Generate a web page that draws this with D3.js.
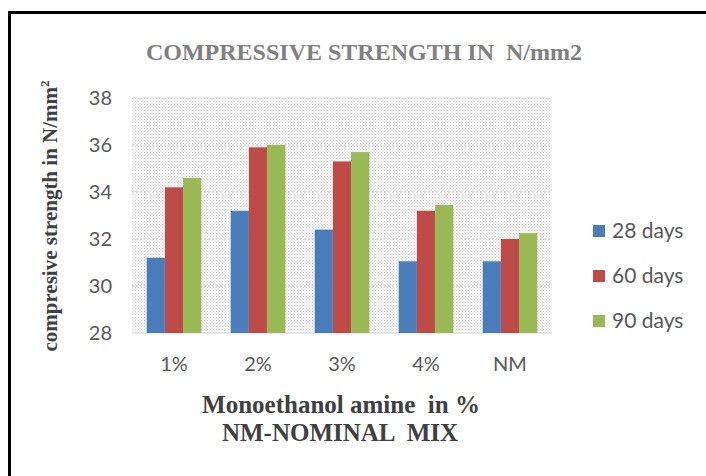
<!DOCTYPE html>
<html>
<head>
<meta charset="utf-8">
<script src="https://cdn.jsdelivr.net/npm/d3@7"></script>
<style>
  body { margin: 0; background: #fff; }
  svg { display: block; }
  text { white-space: pre; }
</style>
</head>
<body>
<svg id="chart" width="706" height="476"></svg>
<script>
const categories = ['1%', '2%', '3%', '4%', 'NM'];
const seriesNames = ['28 days', '60 days', '90 days'];
const days28 = [31.2, 33.2, 32.4, 31.05, 31.05];
const days60 = [34.2, 35.9, 35.3, 33.2, 32.0];
const days90 = [34.6, 36.0, 35.7, 33.45, 32.25];
const yTicks = [28, 30, 32, 34, 36, 38];
const colors = ['#4a7ebb', '#be4b48', '#98b954'];

const series = [days28, days60, days90];

const svg = d3.select('#chart');

// frame (left and top edges only)
svg.append('rect').attr('x', 8).attr('y', 11).attr('width', 698).attr('height', 3).attr('fill', '#000');
svg.append('rect').attr('x', 8).attr('y', 11).attr('width', 3).attr('height', 465).attr('fill', '#000');

const margin = {left: 132, right: 154, top: 98, bottom: 143};
const width = 706 - margin.left - margin.right;
const height = 476 - margin.top - margin.bottom;

const defs = svg.append('defs');
const pat = defs.append('pattern')
    .attr('id', 'dots')
    .attr('width', 3).attr('height', 3)
    .attr('patternUnits', 'userSpaceOnUse');
pat.append('rect').attr('width', 3).attr('height', 3).attr('fill', '#f7f7f7');
pat.append('rect').attr('width', 1).attr('height', 1).attr('fill', '#d9d9d9');
pat.append('rect').attr('x', 1.5).attr('y', 1.5).attr('width', 1).attr('height', 1).attr('fill', '#e2e2e2');

const g = svg.append('g').attr('transform', `translate(${margin.left},${margin.top})`);

const x0 = d3.scaleBand().domain(categories).range([0, width]).paddingInner(0.35).paddingOuter(0.175);
const x1 = d3.scaleBand().domain(d3.range(series.length)).range([0, x0.bandwidth()]);
const y = d3.scaleLinear().domain([28, 38]).range([height, 0]);

g.append('rect').attr('width', width).attr('height', height).attr('fill', 'url(#dots)');

g.append('g')
    .selectAll('line')
    .data(yTicks)
    .enter().append('line')
      .attr('x1', 0).attr('x2', width)
      .attr('y1', d => y(d)).attr('y2', d => y(d))
      .attr('stroke', '#d4d4d4')
      .attr('stroke-width', 1.2)
      .attr('stroke-dasharray', d => d === 28 || d === 38 ? null : '2,2');

const yAxis = g.append('g')
    .call(d3.axisLeft(y).tickValues(yTicks).tickSize(0).tickPadding(20));
yAxis.select('.domain').remove();
yAxis.selectAll('text')
    .attr('font-family', 'Lato, sans-serif')
    .attr('font-size', 20)
    .attr('fill', '#595959');

const xAxis = g.append('g')
    .attr('transform', `translate(0,${height})`)
    .call(d3.axisBottom(x0).tickSize(0).tickPadding(24));
xAxis.select('.domain').remove();
xAxis.selectAll('text')
    .attr('font-family', 'Lato, sans-serif')
    .attr('font-size', 20)
    .attr('fill', '#595959');

const groups = g.append('g')
    .selectAll('g')
    .data(categories)
    .enter().append('g')
      .attr('transform', d => `translate(${x0(d)},0)`);

groups.selectAll('rect')
    .data((c, i) => series.map((s, k) => ({k: k, v: s[i]})))
    .enter().append('rect')
      .attr('x', d => x1(d.k))
      .attr('y', d => y(d.v))
      .attr('width', x1.bandwidth())
      .attr('height', d => height - y(d.v))
      .attr('fill', d => colors[d.k]);

// title
svg.append('text')
    .attr('x', 364).attr('y', 60)
    .attr('text-anchor', 'middle')
    .attr('font-family', '"Liberation Serif", serif')
    .attr('font-weight', 'bold')
    .attr('font-size', 24)
    .attr('fill', '#808080')
    .text('COMPRESSIVE STRENGTH IN  N/mm2');

// y title
const yt = svg.append('text')
    .attr('transform', 'translate(57,216) rotate(-90)')
    .attr('text-anchor', 'middle')
    .attr('font-family', '"Liberation Serif", serif')
    .attr('font-weight', 'bold')
    .attr('font-size', 21)
    .attr('fill', '#404040');
yt.append('tspan').text('compresive strength in N/mm');
yt.append('tspan').attr('dy', -8).attr('font-size', 13).text('2');

// x titles
svg.append('text')
    .attr('x', 341).attr('y', 413)
    .attr('text-anchor', 'middle')
    .attr('font-family', '"Liberation Serif", serif')
    .attr('font-weight', 'bold')
    .attr('font-size', 25)
    .attr('fill', '#404040')
    .text('Monoethanol amine  in %');
svg.append('text')
    .attr('x', 340).attr('y', 441)
    .attr('text-anchor', 'middle')
    .attr('font-family', '"Liberation Serif", serif')
    .attr('font-weight', 'bold')
    .attr('font-size', 25)
    .attr('fill', '#404040')
    .text('NM-NOMINAL  MIX');

// legend
const legend = svg.append('g')
    .selectAll('g')
    .data(seriesNames)
    .enter().append('g')
      .attr('transform', (d, i) => `translate(593,${231 + i * 45})`);
legend.append('rect')
    .attr('x', 0).attr('y', -6)
    .attr('width', 12).attr('height', 12)
    .attr('fill', (d, i) => colors[i]);
legend.append('text')
    .attr('x', 19).attr('y', 0)
    .attr('dy', '0.35em')
    .attr('font-family', 'Lato, sans-serif')
    .attr('font-size', 21)
    .attr('fill', '#595959')
    .text(d => d);
</script>
</body>
</html>
